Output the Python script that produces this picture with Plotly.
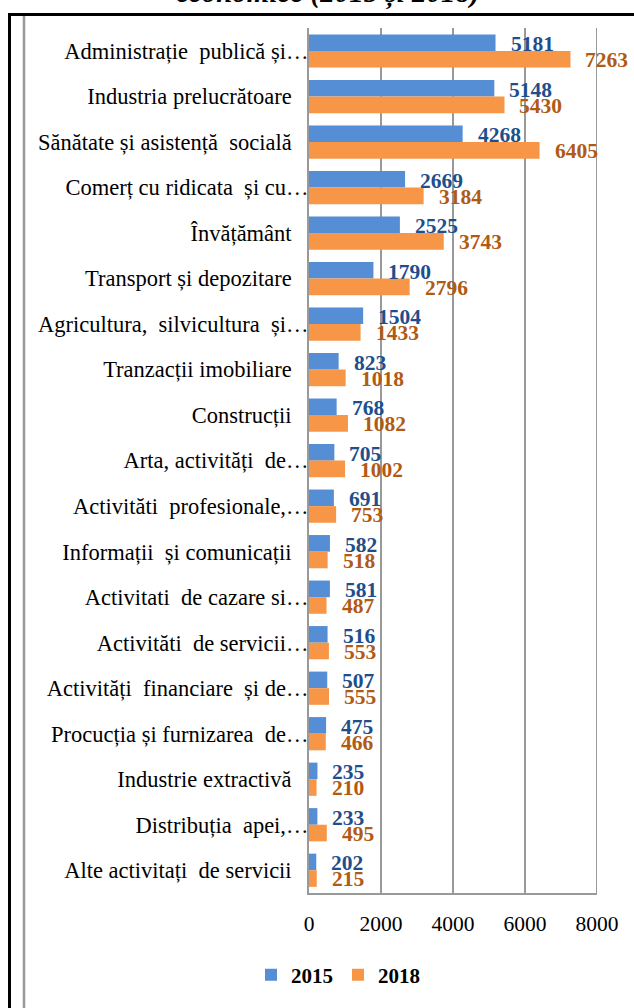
import plotly.graph_objects as go

categories = [
    "Administrație  publică și…",
    "Industria prelucrătoare",
    "Sănătate și asistență  socială",
    "Comerț cu ridicata  și cu…",
    "Învățământ",
    "Transport și depozitare",
    "Agricultura,  silvicultura  și…",
    "Tranzacții imobiliare",
    "Construcții",
    "Arta, activități  de…",
    "Activităti  profesionale,…",
    "Informații  și comunicații",
    "Activitati  de cazare si…",
    "Activităti  de servicii…",
    "Activități  financiare  și de…",
    "Procucția și furnizarea  de…",
    "Industrie extractivă",
    "Distribuția  apei,…",
    "Alte activitați  de servicii",
]
values_2015 = [5181, 5148, 4268, 2669, 2525, 1790, 1504, 823, 768, 705, 691, 582, 581, 516, 507, 475, 235, 233, 202]
values_2018 = [7263, 5430, 6405, 3184, 3743, 2796, 1433, 1018, 1082, 1002, 753, 518, 487, 553, 555, 466, 210, 495, 215]
series_names = ["2015", "2018"]
x_ticks = [0, 2000, 4000, 6000, 8000]

BLUE = "#558ED5"
ORANGE = "#F79646"
BLUE_TXT = "#1F4E8C"
ORANGE_TXT = "#B05A14"
FONT = "Liberation Serif"

W, H = 634, 1008
L, R, T, B = 309, 37, 28, 115
PW, PH = W - L - R, H - T - B

def px(p):
    return (p - L) / PW

def py(q):
    return (H - B - q) / PH

# labels that are not truncated end a bit further from the axis
tick_text = [c if c.endswith("…") else c + "\u00a0\u00a0\u00a0" for c in categories]

fig = go.Figure()
fig.add_trace(go.Bar(y=categories, x=values_2015, name=series_names[0], orientation="h",
                     marker=dict(color=BLUE, line=dict(width=0))))
fig.add_trace(go.Bar(y=categories, x=values_2018, name=series_names[1], orientation="h",
                     marker=dict(color=ORANGE, line=dict(width=0))))

annotations = []
for c, v in zip(categories, values_2015):
    annotations.append(dict(x=v, y=c, xref="x", yref="y", text=str(v), showarrow=False,
                            xanchor="left", yanchor="middle", xshift=13, yshift=7,
                            font=dict(family=FONT, size=21.5, color=BLUE_TXT, weight="bold")))
for c, v in zip(categories, values_2018):
    annotations.append(dict(x=v, y=c, xref="x", yref="y", text=str(v), showarrow=False,
                            xanchor="left", yanchor="middle", xshift=13, yshift=-9,
                            font=dict(family=FONT, size=21.5, color=ORANGE_TXT, weight="bold")))
annotations.append(dict(x=px(328), y=py(12), xref="paper", yref="paper",
                        text="<b><i>economice (2015 și 2018)</i></b>", showarrow=False,
                        xanchor="center", yanchor="bottom",
                        font=dict(family=FONT, size=29, color="black")))

shapes = [
    dict(type="line", xref="paper", yref="paper", x0=px(9.5), x1=px(640), y0=py(14.5), y1=py(14.5),
         line=dict(color="black", width=3)),
    dict(type="line", xref="paper", yref="paper", x0=px(9.5), x1=px(9.5), y0=py(13), y1=py(1010),
         line=dict(color="black", width=3)),
    dict(type="line", xref="paper", yref="paper", x0=px(24), x1=px(24), y0=py(16), y1=py(1010),
         line=dict(color="#999999", width=2.5)),
]

fig.update_layout(
    width=W, height=H,
    margin=dict(l=L, r=R, t=T, b=B, autoexpand=False),
    paper_bgcolor="white", plot_bgcolor="white",
    barmode="group", bargap=0.27, bargroupgap=0,
    font=dict(family=FONT, color="black"),
    showlegend=True,
    legend=dict(orientation="h", x=px(338), y=py(975), xanchor="center", yanchor="middle",
                font=dict(family=FONT, size=21, color="black", weight="bold"),
                itemwidth=30, traceorder="normal"),
    annotations=annotations,
    shapes=shapes,
    xaxis=dict(range=[0, 8000], tickvals=x_ticks, ticktext=[str(t) for t in x_ticks],
               showgrid=True, gridcolor="#999999", gridwidth=2,
               showline=True, linecolor="#999999", linewidth=2, mirror=False,
               ticks="", zeroline=False, ticklabelstandoff=10,
               tickfont=dict(family=FONT, size=21.5, color="black")),
    yaxis=dict(autorange="reversed", showgrid=False, showline=True, linecolor="#999999",
               linewidth=2, ticks="", ticklabelstandoff=-6,
               tickmode="array", tickvals=categories, ticktext=tick_text,
               tickfont=dict(family=FONT, size=22.5, color="black")),
)
fig.add_shape(type="line", xref="x", yref="paper", x0=8000, x1=8000, y0=0, y1=1,
              line=dict(color="#999999", width=2))
fig.write_html("out.html", config={"displayModeBar": False},
               post_script="document.body.style.margin='0';")
